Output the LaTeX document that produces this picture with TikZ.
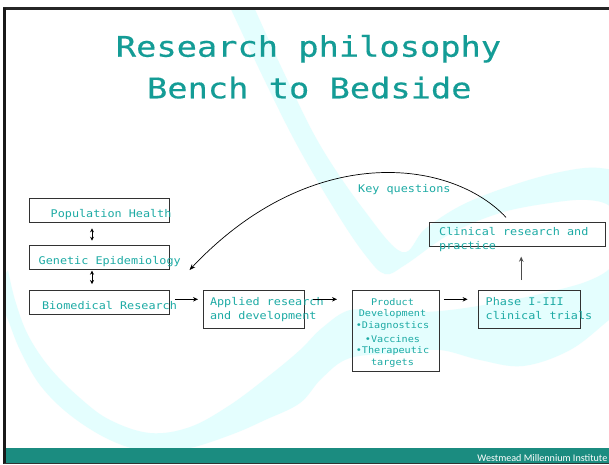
\documentclass[tikz,border=0pt]{standalone}
\usepackage{fontspec}
\newfontfamily\bodyfam[FakeStretch=1.113]{DejaVu Sans Mono}
\newfontfamily\prodfam[FakeStretch=1.105]{DejaVu Sans Mono}
\newfontfamily\titlefam[FakeStretch=1.186,FakeBold=0.4]{DejaVu Sans Mono}
\newfontfamily\footfam{Carlito}
\usetikzlibrary{calc,arrows.meta}
\definecolor{swooshcol}{RGB}{228,254,254}
\definecolor{titlecol}{RGB}{20,156,150}
\definecolor{bodycol}{RGB}{28,170,164}
\definecolor{footcol}{RGB}{27,140,128}
\definecolor{boxcol}{RGB}{50,50,50}
\begin{document}
\begin{tikzpicture}[x=1pt,y=-1pt,
  box/.style={draw=boxcol, line width=1pt, inner sep=0pt, outer sep=0pt, anchor=north west},
  txt/.style={font=\bodyfam\fontsize{10.6}{14}\selectfont, text=bodycol, inner sep=0pt, anchor=base west},
  ptxt/.style={font=\prodfam\fontsize{9.2}{12}\selectfont, text=bodycol, inner sep=0pt, anchor=base},
  titletxt/.style={font=\titlefam\fontsize{28.4}{34}\selectfont, text=titlecol, inner sep=0pt, anchor=base},
  arr/.style={-{Stealth[length=5pt,width=4.5pt]}, line width=0.8pt, black},
  uparr/.style={-{Stealth[length=5pt,width=4.5pt]}, line width=1.3pt, black!70},
  darr/.style={{Stealth[length=4pt,width=4pt]}-{Stealth[length=4pt,width=4pt]}, line width=1pt, black},
  carr/.style={-{Stealth[length=6pt,width=4.5pt]}, line width=0.7pt, black}]
\useasboundingbox (0,0) rectangle (609,464);
\fill[white] (0,0) rectangle (609,464);
% background swoosh
\begin{scope}
\clip (4,9) rectangle (609,448);
\fill[swooshcol] plot[smooth, tension=0.6] coordinates {(229,5) (262,75) (297,145) (338,215) (366,256) (385,274) (405,265) (450,234) (500,213) (550,203) (588,200) (612,208) (624,235) (614,264) (588,281) (540,294) (490,304) (440,311) (385,313) (350,310) (322,328) (300,350) (270,375) (230,405) (190,427) (150,433) (110,420) (80,398) (50,368) (28,335) (15,300) (8,270)}
 -- plot[smooth, tension=0.6] coordinates {(-5,290) (8,320) (20,350) (40,385) (70,415) (110,440) (150,452) (190,448) (233,434) (265,420) (300,403) (322,378) (350,358) (400,353) (440,350) (480,360) (523,366) (570,350) (609,320) (640,295) (655,262) (652,215) (635,180) (600,168) (560,172) (510,186) (462,205) (425,229) (402,252) (364,210) (320,145) (285,75) (253,5)} -- cycle;
\end{scope}
% frame and footer
\fill[footcol] (4,448) rectangle (609,462.5);
\draw[line width=2.5pt, black!85] (3,8.7) -- (609,8.7);
\draw[line width=2.2pt, black!90] (4.5,7.5) -- (4.5,464);
\draw[line width=1.5pt, black!80] (4,463.3) -- (609,463.3);
\node[font=\footfam\fontsize{10.1}{12}\selectfont, text=white, inner sep=0pt, anchor=base east] (foot) at (607.5,461.6) {Westmead Millennium Institute};
% title
\node[titletxt] (t1) at (308.5,56.7) {Research philosophy};
\node[titletxt] (t2) at (309.3,98.3) {Bench to Bedside};
% boxes
\node[box, minimum width=140.2pt, minimum height=23.6pt] (pop) at (29.5,198.7) {};
\node[box, minimum width=140.2pt, minimum height=24pt] (gen) at (29.5,245) {};
\node[box, minimum width=140.2pt, minimum height=24pt] (bio) at (29.5,290) {};
\node[box, minimum width=101.5pt, minimum height=38.3pt] (app) at (203,290) {};
\node[box, minimum width=87pt, minimum height=81pt] (prod) at (352.2,290) {};
\node[box, minimum width=101.4pt, minimum height=38.3pt] (phase) at (478.8,290) {};
\node[box, minimum width=175.5pt, minimum height=24pt] (clin) at (429.5,222.3) {};
% texts
\node[txt] (poptxt) at (50.5,217.5) {Population Health};
\node[txt] (gentxt) at (38.5,264.3) {Genetic Epidemiology};
\node[txt] (biotxt) at (41.8,309.3) {Biomedical Research};
\node[txt] (apptxt1) at (209.8,305) {Applied research};
\node[txt] (apptxt2) at (209.8,319) {and development};
\node[txt] (phtxt1) at (485.5,305) {Phase I-III};
\node[txt] (phtxt2) at (485.5,319) {clinical trials};
\node[txt] (cltxt1) at (439,235.7) {Clinical research and};
\node[txt] (cltxt2) at (439,249.5) {practice};
\node[ptxt] (pr1) at (392.5,305) {Product};
\node[ptxt] (pr2) at (392.5,316.7) {Development};
\node[ptxt] (pr3) at (392.5,328.7) {•Diagnostics};
\node[ptxt] (pr4) at (392.5,342) {•Vaccines};
\node[ptxt] (pr5) at (392.5,353.3) {•Therapeutic};
\node[ptxt] (pr6) at (392.5,365) {targets};
\node[txt] (kq) at (358,192.7) {Key questions};
% connectors
\draw[darr] ($(pop.south west)+(62.5,6)$) -- ($(gen.north west)+(62.5,-4.3)$);
\draw[darr] ($(gen.south west)+(62.5,1.7)$) -- ($(bio.north west)+(62.5,-6)$);
\draw[arr] ($(bio.north east)+(5.1,9.3)$) -- ($(app.north west)+(-5,9.3)$);
\draw[arr] ($(app.north east)+(8.1,9.3)$) -- ($(prod.north west)+(-15.2,9.3)$);
\draw[arr] ($(prod.north east)+(4.7,9.3)$) -- ($(phase.north west)+(-11.2,9.3)$);
\draw[uparr] ($(phase.north west)+(42.4,-10)$) -- ($(clin.south west)+(91.7,10.4)$);
\draw[carr] ($(clin.north west)+(76.5,-5)$) .. controls (450,158) and (310,142) .. ($(gen.south east)+(19.8,1)$);
\end{tikzpicture}
\end{document}
